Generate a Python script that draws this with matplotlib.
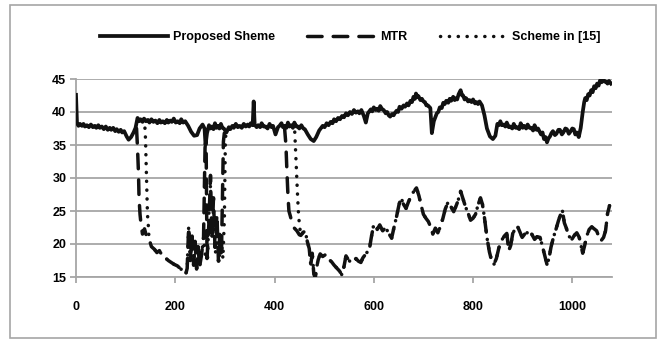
import numpy as np
import matplotlib
matplotlib.use("Agg")
import matplotlib.pyplot as plt
from matplotlib.patches import Rectangle

plt.rcParams['font.family'] = ['Liberation Sans', 'DejaVu Sans']
plt.rcParams['font.weight'] = 'bold'

# ---------------- data ----------------
x_ticks = [0, 200, 400, 600, 800, 1000]
y_ticks = [15, 20, 25, 30, 35, 40, 45]
series_labels = ["Proposed Sheme", "MTR", "Scheme in [15]"]

proposed = [
    (0, 42.6), (2, 38.3), (5, 37.9), (8, 38.2), (12, 37.9), (15, 38.2), (18, 37.8), (22, 38.0),
    (26, 37.7), (30, 38.1), (34, 37.7), (38, 37.9), (41, 37.6), (45, 38.0), (48, 37.6), (52, 37.8),
    (56, 37.4), (60, 37.8), (64, 37.3), (68, 37.6), (71, 37.3), (75, 37.6), (79, 37.1), (82, 37.4),
    (86, 37.0), (90, 37.3), (93, 36.9), (97, 37.1), (102, 36.3), (106, 35.8), (111, 36.2),
    (116, 36.9), (120, 37.6), (124, 39.1), (127, 38.6), (130, 38.9), (134, 38.5), (137, 39.0),
    (141, 38.6), (145, 38.8), (148, 38.4), (152, 38.9), (156, 38.5), (160, 38.7), (164, 38.3),
    (168, 38.8), (171, 38.4), (175, 38.6), (179, 38.3), (183, 38.8), (186, 38.4), (190, 38.7),
    (193, 38.5), (197, 39.0), (201, 38.4), (205, 38.6), (209, 38.3), (212, 38.9), (216, 38.4),
    (220, 38.6), (226, 37.9), (232, 37.0), (238, 36.4), (244, 36.5), (249, 37.5), (255, 38.1),
    (259, 37.5), (261, 35.0), (264, 36.8), (268, 38.0), (271, 37.5), (274, 37.8), (277, 37.4),
    (280, 38.3), (283, 37.6), (286, 37.9), (289, 37.5), (292, 38.2), (295, 37.6), (298, 37.5),
    (303, 36.9), (308, 37.7), (311, 37.4), (315, 37.9), (318, 37.6), (322, 38.2), (326, 37.7),
    (330, 37.9), (334, 37.6), (338, 38.2), (342, 37.8), (346, 38.1), (349, 37.8), (352, 38.3),
    (356, 38.0), (358, 41.6), (360, 38.1), (364, 37.7), (367, 38.0), (371, 37.7), (374, 38.3),
    (378, 37.8), (382, 37.8), (386, 37.5), (390, 38.2), (394, 37.7), (397, 37.9), (402, 36.6),
    (407, 37.7), (410, 37.9), (414, 38.3), (417, 37.7), (420, 37.9), (424, 37.6), (427, 38.4),
    (430, 37.8), (434, 38.0), (437, 37.6), (440, 38.4), (444, 37.8), (447, 37.8), (450, 37.5),
    (454, 38.0), (458, 37.5), (461, 37.4), (467, 36.6), (473, 35.9), (479, 35.6), (484, 36.2),
    (490, 37.2), (494, 37.6), (497, 37.9), (501, 37.7), (505, 38.3), (509, 38.0), (513, 38.5),
    (517, 38.3), (520, 38.9), (524, 38.6), (528, 39.1), (532, 38.9), (536, 39.4), (540, 39.2),
    (544, 39.8), (548, 39.5), (552, 40.0), (556, 39.7), (560, 40.3), (564, 39.9), (568, 40.1),
    (571, 39.8), (575, 40.3), (580, 39.4), (584, 38.4), (588, 39.8), (591, 40.1), (594, 40.4),
    (597, 40.1), (600, 40.7), (604, 40.3), (607, 40.5), (610, 40.2), (613, 40.9), (617, 40.4),
    (620, 40.3), (624, 39.8), (627, 40.0), (630, 39.5), (633, 39.3), (637, 39.7), (640, 39.5),
    (643, 39.9), (646, 40.2), (649, 40.0), (652, 40.8), (656, 40.5), (660, 41.0), (663, 40.8),
    (667, 41.3), (670, 41.0), (674, 41.7), (677, 41.5), (680, 42.3), (683, 42.0), (685, 42.8),
    (688, 42.3), (690, 42.4), (694, 41.8), (697, 42.0), (700, 41.6), (703, 41.5), (706, 41.0),
    (709, 41.0), (714, 40.6), (717, 36.8), (721, 38.6), (724, 39.2), (727, 39.8), (730, 40.0),
    (733, 40.7), (737, 40.6), (740, 41.4), (743, 41.2), (746, 41.7), (750, 41.4), (753, 42.0),
    (756, 41.7), (760, 42.3), (763, 41.8), (766, 42.1), (768, 41.9), (771, 42.7), (775, 43.3),
    (778, 42.5), (780, 42.5), (783, 41.9), (786, 42.1), (790, 41.6), (793, 41.8), (797, 41.5),
    (800, 41.9), (804, 41.3), (807, 41.5), (810, 41.2), (813, 41.6), (818, 41.0), (823, 39.5),
    (828, 37.5), (834, 36.3), (840, 35.9), (845, 36.4), (849, 38.2), (852, 38.0), (855, 38.6),
    (858, 38.0), (862, 38.1), (865, 37.8), (868, 38.4), (872, 37.7), (875, 37.8), (879, 37.5),
    (882, 38.2), (886, 37.6), (889, 37.7), (893, 37.4), (896, 38.3), (900, 37.6), (903, 37.9),
    (907, 37.5), (910, 38.1), (914, 37.6), (917, 37.6), (921, 37.2), (924, 38.0), (928, 37.3),
    (931, 37.5), (937, 36.6), (940, 36.9), (943, 35.9), (946, 36.2), (949, 35.4), (952, 36.0),
    (955, 36.3), (958, 36.8), (961, 37.1), (965, 36.5), (968, 36.7), (972, 37.3), (975, 37.3),
    (979, 36.6), (982, 36.9), (986, 37.5), (989, 37.4), (993, 36.7), (996, 37.0), (1000, 37.5),
    (1003, 37.4), (1006, 36.6), (1009, 36.9), (1013, 36.2), (1017, 37.6), (1021, 40.0),
    (1024, 41.5), (1026, 42.1), (1029, 41.8), (1032, 42.7), (1035, 42.5), (1038, 43.3),
    (1041, 43.0), (1044, 43.9), (1047, 43.6), (1050, 44.3), (1053, 44.0), (1056, 44.8),
    (1059, 44.5), (1062, 45.0), (1065, 44.6), (1068, 44.6), (1071, 44.3), (1074, 44.7),
    (1078, 44.3),
]

# MTR-only parts (where it separates from the proposed curve)
mtr_drop1 = [(122, 37.5), (124, 34.5), (126, 30.5), (127, 27.0), (129, 24.5), (131, 23.0),
             (134, 21.5), (138, 22.3), (142, 21.2)]
mtr_mid = [(260, 34.5), (262, 37.0), (264, 17.8), (268, 23.5), (271, 30.4), (274, 20.6),
           (277, 27.0), (280, 19.5), (284, 24.5), (287, 17.4), (290, 22.0), (293, 18.0),
           (297, 35.5), (300, 37.6)]
mtr_drop2 = [(420, 37.8), (423, 35.0), (425, 31.0), (427, 27.5), (429, 25.0), (432, 24.2),
             (436, 23.0), (440, 22.4), (445, 22.0), (450, 21.4)]

# Scheme in [15]-only parts
scheme_drop1 = [(138, 38.9), (140, 36.0), (141, 33.0), (142, 30.0), (143, 27.0), (144, 24.5),
                (146, 22.5)]
scheme_mid = [(261, 18.0), (265, 17.6), (268, 25.0), (271, 29.0), (274, 21.0), (277, 25.5),
              (281, 18.5), (284, 23.5), (288, 17.2), (292, 21.5), (296, 17.8), (299, 24.0),
              (301, 36.0), (303, 37.0)]
scheme_drop2 = [(440, 38.3), (442, 35.0), (444, 31.5), (446, 28.0), (448, 25.0), (450, 23.0)]

# low segments where MTR and Scheme in [15] coincide
shared_low1 = [(147, 20.8), (152, 19.6), (158, 19.2), (163, 18.7), (168, 19.0), (174, 18.2),
               (180, 17.9), (186, 17.5), (192, 17.2), (198, 16.9), (204, 16.7), (210, 16.3),
               (216, 15.9), (221, 15.4), (224, 16.3), (227, 22.6), (230, 17.5), (234, 21.2),
               (237, 16.8), (240, 20.4), (243, 16.2), (246, 19.6), (249, 16.5), (253, 18.4),
               (257, 21.0)]
shared_low2 = [
    (453, 21.3), (458, 21.8), (462, 21.9), (466, 20.4), (470, 19.3), (473, 16.8), (476, 18.6),
    (479, 15.6), (482, 14.8), (485, 16.5), (488, 17.6), (492, 18.5), (497, 18.1), (503, 18.4),
    (509, 17.7), (515, 17.3), (520, 16.8), (526, 16.3), (531, 15.9), (536, 15.3), (540, 16.6),
    (544, 18.2), (549, 17.6), (554, 17.2), (559, 17.5), (564, 17.8), (569, 17.4), (574, 17.2),
    (578, 17.9), (583, 18.4), (588, 18.9), (592, 19.6), (595, 21.0), (599, 22.6), (603, 22.8),
    (607, 22.2), (612, 22.9), (618, 22.0), (624, 22.5), (630, 21.6), (636, 20.9), (641, 22.6),
    (646, 24.2), (651, 26.0), (655, 27.0), (660, 26.0), (665, 25.4), (670, 26.4), (675, 27.2),
    (680, 27.9), (686, 28.5), (691, 27.3), (695, 26.0), (700, 24.5), (705, 23.9), (710, 23.4),
    (715, 22.5), (719, 21.5), (724, 22.4), (729, 21.7), (734, 22.6), (739, 23.8), (744, 25.3),
    (750, 26.4), (756, 25.6), (761, 24.9), (766, 25.8), (770, 26.6), (775, 28.0), (780, 26.8),
    (785, 25.6), (790, 24.7), (795, 23.6), (800, 23.9), (805, 24.5), (810, 25.9), (815, 27.0),
    (819, 26.0), (823, 24.0), (828, 21.0), (833, 18.8), (837, 17.6), (842, 16.9), (847, 17.8),
    (852, 19.4), (857, 20.5), (863, 21.2), (868, 21.6), (872, 19.0), (876, 19.8), (880, 21.6),
    (885, 22.3), (889, 22.8), (894, 21.9), (899, 21.0), (904, 21.5), (909, 21.7), (914, 22.1),
    (919, 21.4), (924, 20.7), (929, 21.1), (935, 21.0), (940, 19.6), (944, 18.4), (949, 16.9),
    (953, 17.8), (957, 19.5), (962, 21.0), (967, 22.2), (972, 23.5), (977, 24.6), (980, 25.1),
    (984, 23.2), (988, 22.4), (993, 21.2), (999, 20.7), (1004, 21.3), (1009, 21.7), (1014, 21.0),
    (1018, 19.6), (1021, 18.6), (1025, 19.8), (1029, 21.2), (1034, 22.2), (1039, 22.6),
    (1044, 22.3), (1049, 22.0), (1054, 21.0), (1058, 20.5), (1063, 21.0), (1067, 22.0),
    (1071, 24.6), (1075, 25.8),
]

GAP = [(np.nan, np.nan)]
mtr = mtr_drop1 + shared_low1 + mtr_mid + GAP + mtr_drop2 + shared_low2
scheme = scheme_drop1 + shared_low1 + scheme_mid + GAP + scheme_drop2 + shared_low2


def xy(pairs):
    a = np.array(pairs, dtype=float)
    return a[:, 0], a[:, 1]


# ---------------- figure ----------------
W, H = 665, 343
fig = plt.figure(figsize=(W / 100, H / 100), dpi=100)
fig.patches.append(Rectangle((10 / W, 5 / H), (656 - 10) / W, (338 - 5) / H,
                             transform=fig.transFigure, fill=False,
                             edgecolor='#a6a6a6', lw=1.2))

ax = fig.add_axes([76 / W, (H - 277) / H, (612 - 76) / W, (277 - 79) / H])
ax.set_xlim(0, 1080)
ax.set_ylim(15, 45)

lw = 2.5
sx, sy = xy(scheme)
l3, = ax.plot(sx, sy, color='#111111', lw=lw, linestyle=(0, (0.05, 2.5)),
              dash_capstyle='round', label=series_labels[2], zorder=3)
mx, my = xy(mtr)
l2, = ax.plot(mx, my, color='#111111', lw=lw, linestyle=(0, (4.2, 3.2)),
              dash_capstyle='round', label=series_labels[1], zorder=4)
px, py = xy(proposed)
l1, = ax.plot(px, py, color='#111111', lw=2.7, solid_joinstyle='round',
              label=series_labels[0], zorder=5)

ax.set_xticks(x_ticks)
ax.set_yticks(y_ticks)
ax.grid(axis='y', color='#a6a6a6', lw=1.3)
ax.set_axisbelow(True)
for s in ['top', 'right']:
    ax.spines[s].set_visible(False)
for s in ['left', 'bottom']:
    ax.spines[s].set_color('#a6a6a6')
    ax.spines[s].set_linewidth(1.3)
ax.tick_params(axis='x', colors='#a6a6a6', labelcolor='black', length=4, width=1.3,
               pad=13, labelsize=9)
ax.tick_params(axis='y', colors='#a6a6a6', labelcolor='black', length=4, width=1.3,
               pad=3, labelsize=9)
for t in ax.get_xticklabels() + ax.get_yticklabels():
    t.set_fontweight('bold')

leg = fig.legend(handles=[l1, l2, l3], labels=series_labels, loc='center',
                 bbox_to_anchor=(0.527, 0.892), ncol=3, frameon=False,
                 handlelength=5.4, handletextpad=0.4, columnspacing=2.6,
                 prop={'weight': 'bold', 'size': 9})

fig.savefig('out.png', dpi=100)
